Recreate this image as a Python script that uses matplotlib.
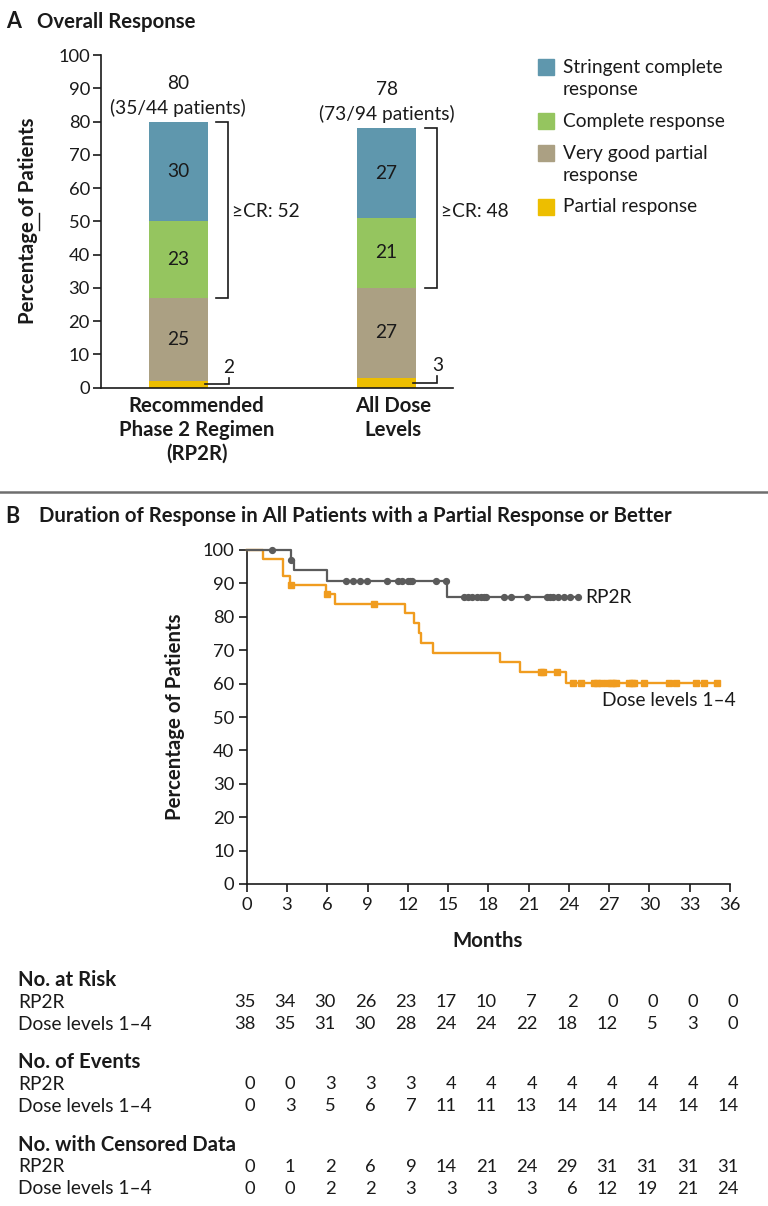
import matplotlib
matplotlib.use("Agg")
import matplotlib.pyplot as plt
import numpy as np
from matplotlib.patches import Rectangle
from matplotlib.lines import Line2D

plt.rcParams['font.family'] = ['Lato', 'DejaVu Sans']

W, H = 768, 1206
def fx(px): return px / W
def fy(py): return 1 - py / H

# ── DATA: panel A ─────────────────────────────────────────────────────────
groups = ['Recommended\nPhase 2 Regimen\n(RP2R)', 'All Dose\nLevels']
resp_names = ['Stringent complete\nresponse', 'Complete response',
              'Very good partial\nresponse', 'Partial response']
pr   = [2, 3]
vgpr = [25, 27]
cr   = [23, 21]
scr  = [30, 27]
totals = [80, 78]
patients = ['(35/44 patients)', '(73/94 patients)']
ge_cr = [52, 48]

# ── DATA: panel B (Kaplan-Meier steps) ────────────────────────────────────
rp2r_t = [0, 3.3, 3.5, 6.0, 14.9, 24.7]
rp2r_s = [100, 97.0, 94.0, 90.8, 85.8, 85.8]
rp2r_cens = [1.9, 3.3, 7.4, 7.9, 8.45, 8.95, 10.45, 11.25, 11.55, 12.05, 12.2,
             12.35, 14.1, 14.85, 16.15, 16.5, 16.8, 17.15, 17.45, 17.65, 17.85,
             19.15, 19.65, 20.9, 22.4, 22.6, 22.85, 23.2, 23.6, 24.1, 24.7]

dose_t = [0, 1.22, 2.71, 3.21, 5.9, 6.6, 11.8, 12.47, 12.87, 13.0, 13.87,
          18.84, 20.34, 23.82, 35.0]
dose_s = [100, 97.4, 92.2, 89.4, 86.8, 83.8, 81.2, 78.2, 75.2, 72.2, 69.2,
          66.6, 63.6, 60.3, 60.3]
dose_cens = [3.3, 6.0, 9.5, 21.9, 22.1, 23.1, 24.3, 24.87, 25.87, 26.1, 26.36,
             26.86, 27.1, 27.3, 27.48, 28.48, 28.7, 28.85, 29.6, 31.46, 31.96,
             33.46, 34.08, 35.0]

months = [0, 3, 6, 9, 12, 15, 18, 21, 24, 27, 30, 33, 36]
rp2r_risk   = [35, 34, 30, 26, 23, 17, 10, 7, 2, 0, 0, 0, 0]
dose_risk   = [38, 35, 31, 30, 28, 24, 24, 22, 18, 12, 5, 3, 0]
rp2r_events = [0, 0, 3, 3, 3, 4, 4, 4, 4, 4, 4, 4, 4]
dose_events = [0, 3, 5, 6, 7, 11, 11, 13, 14, 14, 14, 14, 14]
rp2r_cnum   = [0, 1, 2, 6, 9, 14, 21, 24, 29, 31, 31, 31, 31]
dose_cnum   = [0, 0, 2, 2, 3, 3, 3, 3, 6, 12, 19, 21, 24]

# ── STYLE ─────────────────────────────────────────────────────────────────
c_scr, c_cr, c_vgpr, c_pr = '#5F97AD', '#95C55F', '#ABA083', '#EDBE00'
c_gray, c_orange = '#5B5B5B', '#F09C1F'
ink = '#1a1a1a'
fs = 13.8     # body text
fs_b = 14.7   # bold headings
fs_t = 13.2   # tick labels / table numbers

fig = plt.figure(figsize=(W / 100, H / 100), dpi=100, facecolor='w')

# ── Panel A ───────────────────────────────────────────────────────────────
fig.text(fx(6), fy(22), 'A', fontsize=15.5, fontweight='bold', va='center', color=ink)
fig.text(fx(37), fy(22), 'Overall Response', fontsize=fs_b, fontweight='bold',
         va='center', color=ink)

axa = fig.add_axes([fx(101), fy(387.7), (453 - 101) / W, (387.7 - 55) / H])
x = np.arange(len(groups))
bw = 0.282
bottoms = np.zeros(len(groups))
for vals, col in [(pr, c_pr), (vgpr, c_vgpr), (cr, c_cr), (scr, c_scr)]:
    axa.bar(x, vals, bw, bottom=bottoms, color=col, edgecolor='none')
    if vals is not pr:
        for i in range(len(x)):
            axa.text(x[i], bottoms[i] + vals[i] / 2, str(vals[i]), ha='center',
                     va='center', fontsize=fs, color=ink)
    bottoms = bottoms + np.array(vals)

for i in range(len(x)):
    top = totals[i]
    low = pr[i] + vgpr[i]
    xr = x[i] + bw / 2
    axa.text(x[i], top + 11.5, str(totals[i]), ha='center', va='center',
             fontsize=fs, color=ink)
    axa.text(x[i], top + 4.2, patients[i], ha='center', va='center',
             fontsize=fs, color=ink)
    # >=CR bracket
    axa.plot([xr + 0.042, xr + 0.099, xr + 0.099, xr + 0.042], [top, top, low, low],
             color=ink, lw=1.2, solid_joinstyle='miter')
    axa.text(xr + 0.118, 53, f'≥CR: {ge_cr[i]}', ha='left', va='center',
             fontsize=fs, color=ink)
    # partial response pointer
    yh = pr[i] / 2
    axa.plot([xr - 0.012, xr + 0.103, xr + 0.103], [yh, yh, yh + 1.9],
             color=ink, lw=1.2, solid_joinstyle='miter')
    axa.text(xr + 0.103, yh + 5.2, str(pr[i]), ha='center', va='center',
             fontsize=fs, color=ink)

axa.set_xlim(-0.371, 1.319)
axa.set_ylim(0, 100)
axa.set_yticks(np.arange(0, 101, 10))
axa.set_xticks(x)
axa.set_xticklabels([])
for i, lab in enumerate(groups):
    axa.text(x[i] + [0.088, 0.03][i], -2.6, lab, ha='center', va='top',
             fontsize=fs_b, fontweight='bold', linespacing=1.22, color=ink)
axa.tick_params(axis='x', length=0)
axa.tick_params(axis='y', direction='out', length=6, width=1.2, pad=2,
                labelsize=fs_t, colors=ink)
for side in ['top', 'right']:
    axa.spines[side].set_visible(False)
for side in ['left', 'bottom']:
    axa.spines[side].set_linewidth(1.2)
    axa.spines[side].set_color(ink)
fig.text(fx(28), fy(221), 'Percentage of Patients', ha='center', va='center',
         rotation=90, fontsize=fs_b, fontweight='bold', color=ink)
fig.add_artist(Line2D([fx(38.5), fx(38.5)], [fy(213), fy(230)], color=ink, lw=1,
                      transform=fig.transFigure))

# legend
leg_y = [67, 121, 153, 207]
leg_cols = [c_scr, c_cr, c_vgpr, c_pr]
for yy, col, name in zip(leg_y, leg_cols, resp_names):
    fig.add_artist(Rectangle((fx(538), fy(yy + 8)), 16 / W, 16 / H, color=col,
                             transform=fig.transFigure))
    for k, line in enumerate(name.split('\n')):
        fig.text(fx(563), fy(yy + 23 * k), line, ha='left', va='center',
                 fontsize=fs, color=ink)

# separator
fig.add_artist(Line2D([0, 1], [fy(492), fy(492)], color='#6E6E6E', lw=1.8,
                      transform=fig.transFigure))

# ── Panel B ───────────────────────────────────────────────────────────────
fig.text(fx(5), fy(516), 'B', fontsize=15.5, fontweight='bold', va='center', color=ink)
fig.text(fx(39), fy(516), 'Duration of Response in All Patients with a Partial Response or Better',
         fontsize=fs_b, fontweight='bold', va='center', color=ink)

axb = fig.add_axes([fx(246.7), fy(884), (730 - 246.7) / W, (884 - 550) / H])

def step_at(ts, ss, c):
    return ss[np.searchsorted(ts, c, side='right') - 1]

axb.step(dose_t, dose_s, where='post', color=c_orange, lw=1.7, zorder=3)
axb.plot(dose_cens, [step_at(dose_t, dose_s, c) for c in dose_cens], 's',
         color=c_orange, ms=4.6, zorder=3)
axb.step(rp2r_t, rp2r_s, where='post', color=c_gray, lw=1.6, zorder=4)
axb.plot(rp2r_cens, [step_at(rp2r_t, rp2r_s, c) for c in rp2r_cens], 'o',
         color=c_gray, ms=4.2, zorder=4)

axb.text(25.2, rp2r_s[-1], 'RP2R', ha='left', va='center', fontsize=fs, color=ink)
axb.text(26.5, 55, 'Dose levels 1–4', ha='left', va='center', fontsize=fs, color=ink)

axb.set_xlim(0, 36)
axb.set_ylim(0, 100)
axb.set_xticks(months)
axb.set_yticks(np.arange(0, 101, 10))
axb.tick_params(direction='out', length=6, width=1.2, labelsize=fs_t, colors=ink)
axb.tick_params(axis='x', pad=3)
axb.tick_params(axis='y', pad=3)
for side in ['top', 'right']:
    axb.spines[side].set_visible(False)
for side in ['left', 'bottom']:
    axb.spines[side].set_linewidth(1.2)
    axb.spines[side].set_color(ink)
for art in axb.lines:
    art.set_clip_on(False)

fig.text(fx(488), fy(941), 'Months', ha='center', va='center', fontsize=fs_b,
         fontweight='bold', color=ink)
fig.text(fx(175), fy(717), 'Percentage of Patients', ha='center', va='center',
         rotation=90, fontsize=fs_b, fontweight='bold', color=ink)

# ── Table ─────────────────────────────────────────────────────────────────
blocks = [('No. at Risk', 980, rp2r_risk, dose_risk),
          ('No. of Events', 1062, rp2r_events, dose_events),
          ('No. with Censored Data', 1145, rp2r_cnum, dose_cnum)]
for head, y0, r1, r2 in blocks:
    fig.text(fx(18), fy(y0), head, ha='left', va='center', fontsize=fs_b,
             fontweight='bold', color=ink)
    for dy, lab, row in [(22, 'RP2R', r1), (44, 'Dose levels 1–4', r2)]:
        fig.text(fx(18), fy(y0 + dy), lab, ha='left', va='center', fontsize=fs, color=ink)
        for m, v in zip(months, row):
            fig.text(fx(246.7 + m * 13.425 + 8.5), fy(y0 + dy), str(v), ha='right',
                     va='center', fontsize=fs_t, color=ink)

fig.savefig('out.png', dpi=100, facecolor='w')
